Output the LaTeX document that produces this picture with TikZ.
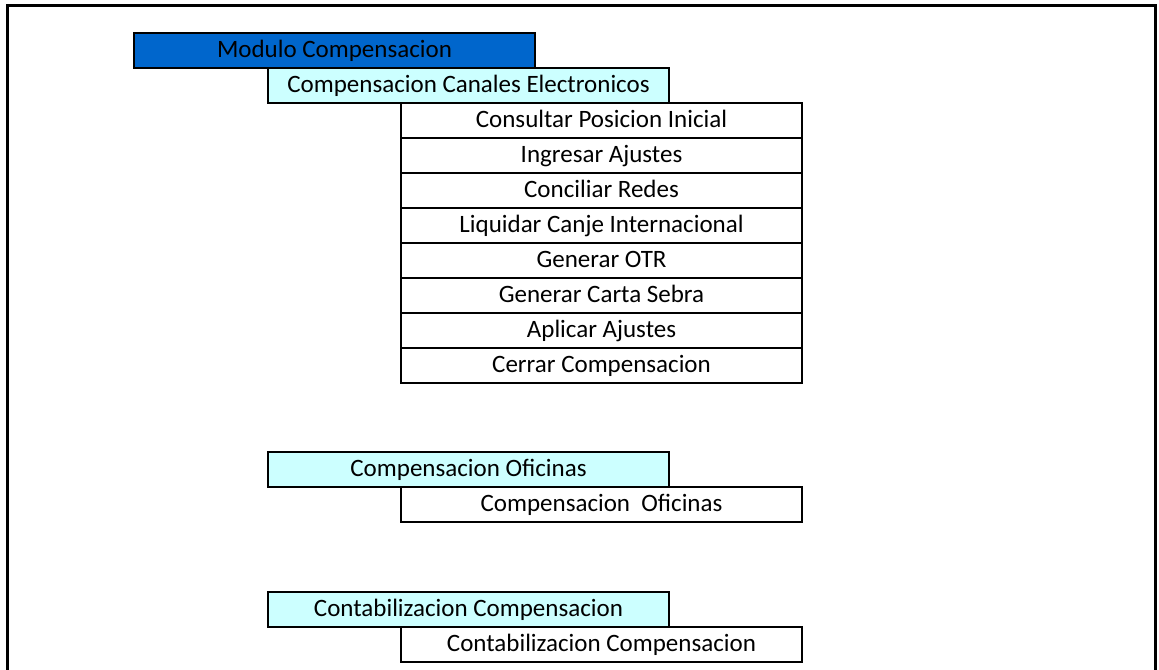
\documentclass[tikz,border=0pt]{standalone}
\usepackage{fontspec}
\setmainfont{Carlito}
\usepackage{xcolor}
\usetikzlibrary{positioning, calc}
\definecolor{modblue}{HTML}{0066CC}
\definecolor{grpcyan}{HTML}{CCFFFF}

\begin{document}
\begin{tikzpicture}[
  x=0.5pt, y=-0.5pt,
  box/.style={draw, line width=1.4pt, minimum width=200.5pt,
              minimum height=17.5pt, inner sep=0pt, outer sep=0pt,
              text height=9pt, text depth=2pt,
              anchor=north west, font=\fontsize{12.5}{14}\selectfont},
  modbox/.style={box, fill=modblue},
  grpbox/.style={box, fill=grpcyan},
  itembox/.style={box, fill=white}
]
  % Page frame (open at the bottom)
  \useasboundingbox (0,0) rectangle (1159,669);
  \clip (0,0) rectangle (1159,669);
  \draw[line width=1.5pt] (7,700) -- (7,5) -- (1155,5) -- (1155,700);

  % Top: module
  \node[modbox] (mod) at (134,33) {Modulo Compensacion};

  % Electronic channels
  \node[grpbox] (canales) at ($(mod.south west)+(134,0)$)
    {Compensacion Canales Electronicos};
  \node[itembox] (consultar) at ($(canales.south west)+(133,0)$)
    {Consultar Posicion Inicial};
  \foreach \name/\txt [remember=\name as \prev (initially consultar)] in
    {ingresar/Ingresar Ajustes, conciliar/Conciliar Redes,
     liquidar/Liquidar Canje Internacional, otr/Generar OTR,
     carta/Generar Carta Sebra, aplicar/Aplicar Ajustes,
     cerrar/Cerrar Compensacion}
    \node[itembox, below=0pt of \prev] (\name) {\txt};

  % Offices
  \node[grpbox] (oficinas) at (268,452) {Compensacion Oficinas};
  \node[itembox] (oficinasA) at ($(oficinas.south west)+(133,0)$)
    {Compensacion\ \ Oficinas};

  % Accounting
  \node[grpbox] (contab) at (268,592) {Contabilizacion Compensacion};
  \node[itembox] (contabA) at ($(contab.south west)+(133,0)$)
    {Contabilizacion Compensacion};
\end{tikzpicture}
\end{document}
